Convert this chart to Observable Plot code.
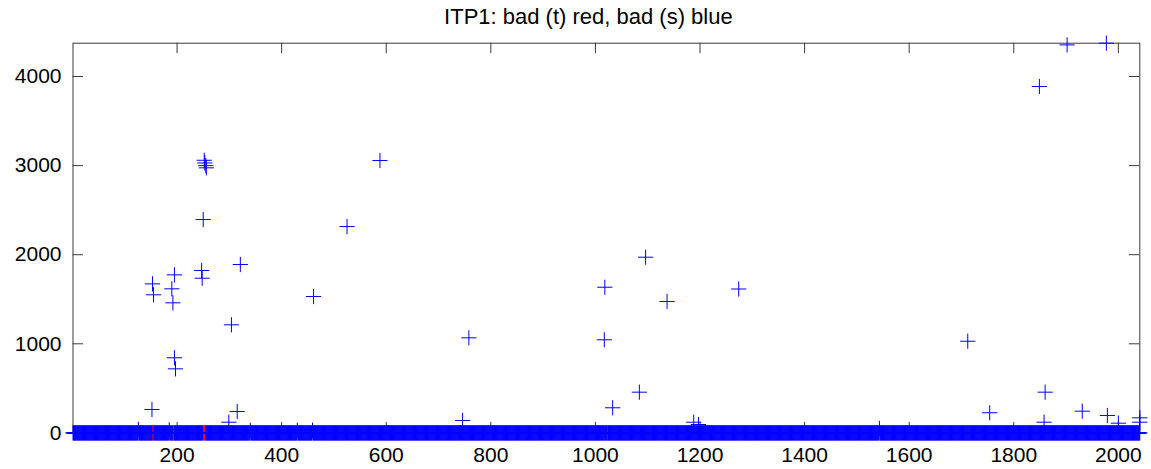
<!DOCTYPE html>
<html>
<head>
<meta charset="utf-8">
<script src="https://cdn.jsdelivr.net/npm/d3@7"></script>
<script src="https://cdn.jsdelivr.net/npm/@observablehq/plot@0.6"></script>
<style>
  html, body { margin: 0; padding: 0; background: #fff; }
</style>
</head>
<body>
<div id="chart"></div>
<script>
// ---- data ----
const title = "ITP1: bad (t) red, bad (s) blue";
const channelCount = 2041;
const xTicks = [200, 400, 600, 800, 1000, 1200, 1400, 1600, 1800, 2000];
const yTicks = [0, 1000, 2000, 3000, 4000];

// bad (t) channels (red), all at ~0
const badTChannels = [153, 154, 155, 192, 193, 194, 250, 251, 252, 253, 254, 1022, 1023];
const badTValues   = [0, 0, 0, 0, 0, 0, 0, 0, 0, 0, 0, 0, 0];

// bad (s) outliers (blue)
const badSChannels = [153, 155, 152, 190, 192, 195, 195, 197, 247, 248, 250, 252, 253, 255, 256,
                      299, 304, 315, 321, 461, 525, 588, 746, 758,
                      1017, 1018, 1033, 1084, 1096, 1137, 1188, 1197, 1274,
                      1712, 1754, 1849, 1858, 1860, 1902, 1931, 1977, 1979, 2000, 2041, 2041];
const badSValues   = [1673, 1550, 263, 1617, 1460, 1774, 843, 719, 1823, 1736, 2395, 3060, 3030, 3000, 2975,
                      120, 1213, 240, 1890, 1531, 2316, 3057, 139, 1067,
                      1045, 1635, 282, 457, 1972, 1475, 120, 94, 1615,
                      1029, 226, 3888, 120, 457, 4355, 244, 4374, 195, 109, 169, 120];

// channels near zero with a small visible value
const lowChannels = [126, 185, 340, 430, 459, 1543];
const lowValues   = [40, 35, 30, 30, 30, 50];

// ---- build tables ----
const lowMap = new Map(lowChannels.map((c, i) => [c, lowValues[i]]));
const badTSet = new Set(badTChannels);
const baseline = d3.range(1, channelCount + 1)
  .filter(c => !badTSet.has(c))
  .map(c => ({x: c, y: lowMap.get(c) ?? 0}));
const badT = badTChannels.map((c, i) => ({x: c, y: badTValues[i]}));
const badS = badSChannels.map((c, i) => ({x: c, y: badSValues[i]}));

// thin "+" marker like MATLAB
const plusThin = {
  draw(ctx, size) {
    const r = Math.sqrt(size / Math.PI);
    ctx.moveTo(-r, 0); ctx.lineTo(r, 0);
    ctx.moveTo(0, -r); ctx.lineTo(0, r);
  }
};

const W = 1151, H = 469;
const mTop = 42.7, mBottom = 36.6, mLeft = 72.5, mRight = 11.7;
const plotW = W - mLeft - mRight, plotH = H - mTop - mBottom;
const tickLen = 10.5;
const axisColor = "#3a3a3a";
const plain = d => String(d);

const chart = Plot.plot({
  width: W,
  height: H,
  marginTop: mTop,
  marginBottom: mBottom,
  marginLeft: mLeft,
  marginRight: mRight,
  x: {domain: [1, channelCount]},
  y: {domain: [0, 4374]},
  style: {fontFamily: "'Liberation Sans', Arial, sans-serif", color: "#000", background: "#fff", overflow: "visible"},
  marks: [
    Plot.frame({stroke: axisColor, strokeWidth: 1}),
    Plot.tickX(xTicks, {x: d => d, insetTop: plotH - tickLen, stroke: axisColor}),
    Plot.tickX(xTicks, {x: d => d, insetBottom: plotH - tickLen, stroke: axisColor}),
    Plot.tickY(yTicks, {y: d => d, insetRight: plotW - tickLen, stroke: axisColor}),
    Plot.tickY(yTicks, {y: d => d, insetLeft: plotW - tickLen, stroke: axisColor}),
    Plot.axisX(xTicks, {tickSize: 0, tickPadding: 14, label: null, fontSize: 21, tickFormat: plain}),
    Plot.axisY(yTicks, {tickSize: 0, tickPadding: 11.5, label: null, fontSize: 21, tickFormat: plain}),
    Plot.dot(badT, {x: "x", y: "y", symbol: plusThin, r: 7.6, stroke: "#ff0000", fill: "none", strokeWidth: 1}),
    Plot.dot(baseline, {x: "x", y: "y", symbol: plusThin, r: 7.6, stroke: "#0000ff", fill: "none", strokeWidth: 1}),
    Plot.dot(badS, {x: "x", y: "y", symbol: plusThin, r: 7.6, stroke: "#0000ff", fill: "none", strokeWidth: 1}),
    Plot.text([title], {frameAnchor: "top", dx: -18, dy: -19, lineAnchor: "bottom", fontSize: 22, fill: "#000"})
  ]
});
document.getElementById("chart").appendChild(chart);
</script>
</body>
</html>
